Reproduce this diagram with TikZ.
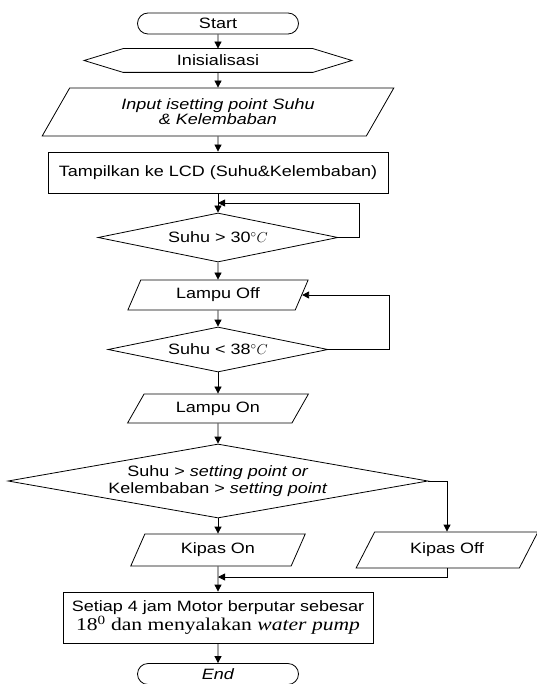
\documentclass[tikz,border=0pt]{standalone}
\usepackage{fontspec}
\setmainfont{Liberation Sans}[FakeStretch=1.2]
\newfontfamily\timesfont{Liberation Serif}[FakeStretch=1.2]
\usetikzlibrary{arrows.meta, positioning, calc, shapes.geometric, shapes.misc}
\tikzset{
  term/.style={draw, rounded rectangle, minimum width=161pt, minimum height=21pt, inner sep=0pt},
  prep/.style={minimum width=267pt, minimum height=23pt, inner sep=0pt},
  io/.style 2 args={draw, trapezium, trapezium stretches=true, trapezium left angle=#1,
    trapezium right angle=#2, inner sep=0pt, align=center},
  proc/.style={draw, align=center, inner sep=0pt},
  dec/.style={draw, diamond, inner sep=0pt, align=center, aspect=#1},
  arr/.style={-{Triangle[length=7pt, width=7pt]}, line width=0.8pt},
}

\begin{document}
\begin{tikzpicture}[x=1pt, y=-1pt, line width=0.8pt, font=\fontsize{15}{17.5}\selectfont]
    \useasboundingbox (0,0) rectangle (536,684);
    \node[term] (start) at (218,23.5) {Start};
    \node[prep] (init) at (218,60.5) {Inisialisasi};
    \draw (init.west) -- ([xshift=39pt]init.north west) -- ([xshift=-39pt]init.north east)
      -- (init.east) -- ([xshift=-39pt]init.south east) -- ([xshift=39pt]init.south west) -- cycle;
    \node[io={55.5}{124.5}, minimum width=352pt, minimum height=48pt, font=\fontsize{15}{15}\selectfont\itshape]
      (input) at (218,112) {Input isetting point Suhu\\ \& Kelembaban};
    \node[proc, minimum width=340pt, minimum height=41pt] (lcd) at (218,172.5) {Tampilkan ke LCD (Suhu\&Kelembaban)};
    \node[dec=4.9, minimum width=240pt, minimum height=49pt] (d1) at (218,237.5) {Suhu > 30$^{\circ}C$};
    \node[io={63.4}{116.6}, minimum width=181pt, minimum height=30pt] (off) at (218,295) {Lampu Off};
    \node[dec=4.9, minimum width=220pt, minimum height=45pt] (d2) at (218,349.5) {Suhu < 38$^{\circ}C$};
    \node[io={55.4}{124.6}, minimum width=181pt, minimum height=29pt] (on) at (218,408.5) {Lampu On};
    \node[dec=5.7, minimum width=420pt, minimum height=74pt] (d3) at (218,481)
      {Suhu > \textit{setting point or}\\ Kelembaban > \textit{setting point}};
    \node[io={63}{117}, minimum width=175pt, minimum height=32pt] (kon) at (218,550) {Kipas On};
    \node[io={56}{124}, minimum width=182pt, minimum height=36pt] (koff) at (447,550) {Kipas Off};
    \node[proc, minimum width=310pt, minimum height=51pt] (setiap) at (218,617.5)
      {Setiap 4 jam Motor berputar sebesar\\ {\timesfont\fontsize{18}{18}\selectfont 18\textsuperscript{0} dan menyalakan \textit{water pump}}};
    \node[term] (end) at (218,674) {\textit{End}};
    \coordinate (j1) at (218,203);
    \coordinate (j2) at (218,577);
    % main line
    \draw[arr] (start) -- (init);
    \draw[arr] (init) -- (input);
    \draw[arr] (input) -- (lcd);
    \draw[arr] (lcd) -- (d1);
    \draw[arr] (d1.east) -- ++(21,0) |- (j1);
    \draw[arr] (d1) -- (off);
    \draw[arr] (off) -- (d2);
    \draw[arr] (d2.east) -- ++(61,0) |- (off.east);
    \draw[arr] (d2) -- (on);
    \draw[arr] (on) -- (d3);
    \draw[arr] (d3) -- (kon);
    \draw[arr] (d3.east) -| (koff.north);
    \draw[arr] (kon) -- (setiap);
    \draw[arr] (koff.south) |- (j2);
    \draw[arr] (setiap) -- (end);
  \end{tikzpicture}
\end{document}
